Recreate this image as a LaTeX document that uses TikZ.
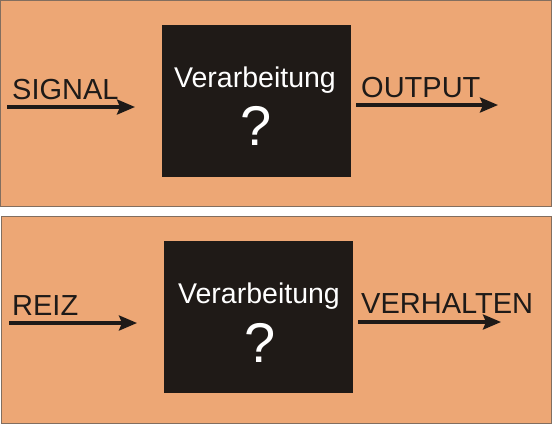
\documentclass[tikz,border=0pt]{standalone}
\usepackage{fontspec}
\setmainfont{Liberation Sans}
\usetikzlibrary{arrows.meta}
\definecolor{panelorange}{RGB}{237,167,117}
\definecolor{panelline}{RGB}{130,110,95}
\definecolor{boxblack}{RGB}{31,26,23}
\definecolor{inkblack}{RGB}{30,26,24}
\begin{document}
\begin{tikzpicture}[
    x=1pt, y=-1pt,
    panel/.style={draw=panelline, fill=panelorange, line width=1pt},
    blackbox/.style={rectangle, draw=boxblack, fill=boxblack, minimum width=188pt, minimum height=151pt, inner sep=0pt},
    boxtext/.style={text=white, inner sep=0pt, anchor=base, font=\fontsize{28.5}{30}\selectfont},
    qmark/.style={text=white, inner sep=0pt, anchor=base, font=\fontsize{56}{60}\selectfont},
    signallabel/.style={text=inkblack, inner sep=0pt, anchor=base west, font=\fontsize{29}{30}\selectfont},
    arrow/.style={line width=3.3pt, draw=inkblack, -{Stealth[length=18pt, width=15pt, inset=3pt]}}
]
    \useasboundingbox (0,0) rectangle (553,424);

    % Panels
    \draw [panel] (0.5,0.5) rectangle (551,206);
    \draw [panel] (1.5,216) rectangle (551,423);

    % Upper panel
    \node [blackbox] (b1) at (256,100.5) {};
    \node [boxtext] (v1) at (255,87) {Verarbeitung};
    \node [qmark] (q1) at (256,145) {?};
    \node [signallabel] (in1) at (12,99) {SIGNAL};
    \node [signallabel] (out1) at (361,97) {OUTPUT};
    \coordinate (a1) at (7,107);
    \coordinate (a2) at (135,107);
    \coordinate (a3) at (356,105);
    \coordinate (a4) at (498,105);
    \draw [arrow] (a1) -- (a2);
    \draw [arrow] (a3) -- (a4);

    % Lower panel
    \node [blackbox] (b2) at (258,317) {};
    \node [boxtext] (v2) at (259,303) {Verarbeitung};
    \node [qmark] (q2) at (260,362) {?};
    \node [signallabel] (in2) at (12,315) {REIZ};
    \node [signallabel] (out2) at (361,313) {VERHALTEN};
    \coordinate (c1) at (9,323);
    \coordinate (c2) at (137,323);
    \coordinate (c3) at (358,322);
    \coordinate (c4) at (501,322);
    \draw [arrow] (c1) -- (c2);
    \draw [arrow] (c3) -- (c4);
\end{tikzpicture}
\end{document}
